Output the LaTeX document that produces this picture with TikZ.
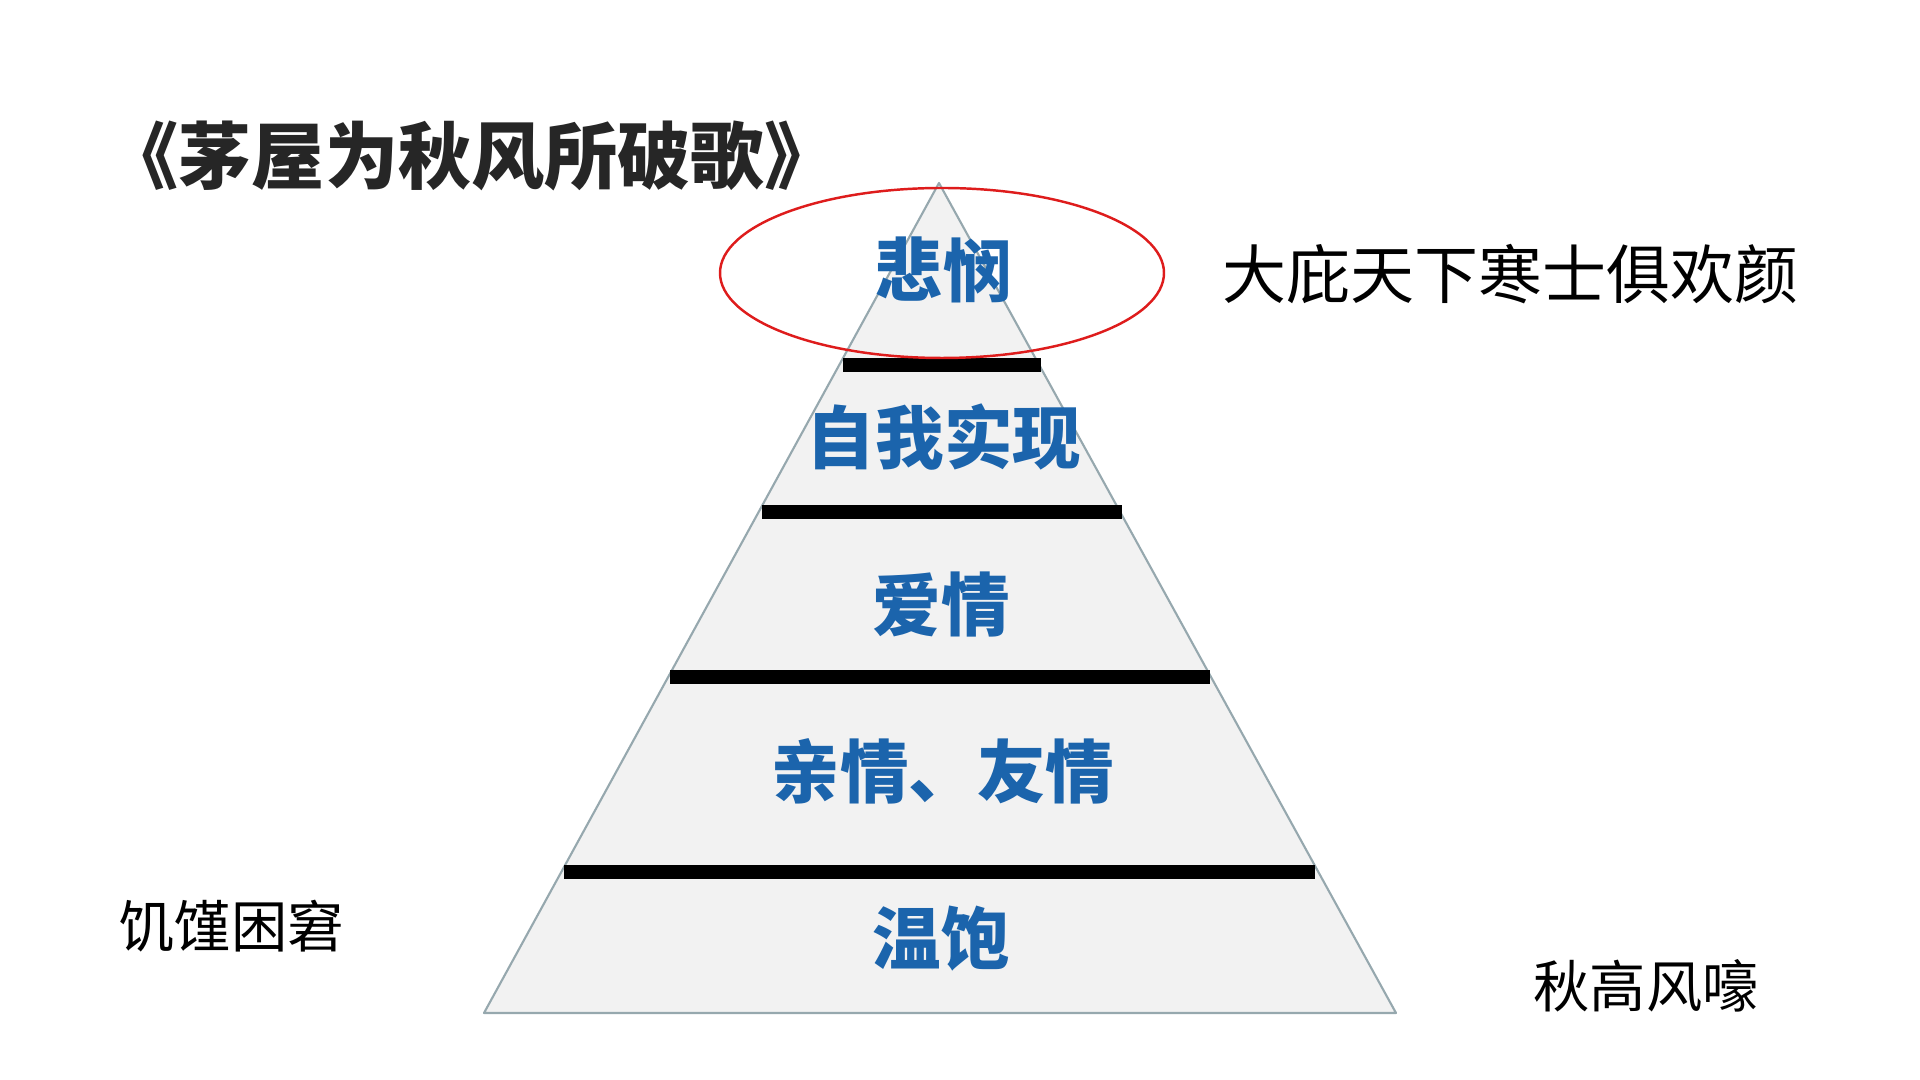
\documentclass[tikz,border=0pt]{standalone}
\usepackage{fontspec}
\newfontfamily\cjk{Noto Sans CJK SC}
\usepackage{xcolor}
\definecolor{levelblue}{RGB}{27,100,172}
\definecolor{pyredge}{RGB}{150,168,174}
\definecolor{pyrfill}{RGB}{242,242,242}
\definecolor{titlegray}{RGB}{38,38,38}
\definecolor{ringred}{RGB}{222,28,28}
\tikzset{
  every picture/.style={line join=round, line cap=butt},
  pyramid/.style={draw=pyredge, fill=pyrfill, line width=0.6pt},
  bar/.style={line width=4pt, draw=black},
  ring/.style={draw=ringred, line width=0.7pt},
  level/.style={inner sep=0pt, text=levelblue, font=\cjk\bfseries\fontsize{19.5}{20}\selectfont},
  verse/.style={inner sep=0pt, anchor=west, font=\cjk\fontsize{16}{18}\selectfont},
}

\begin{document}
\begin{tikzpicture}[x=0.01cm, y=-0.01cm]
\useasboundingbox (0,0) rectangle (1920,1080);
% pyramid
\coordinate (apex) at (939,183);
\coordinate (baseL) at (484,1013);
\coordinate (baseR) at (1396,1013);
\draw[pyramid] (apex) -- (baseL) -- (baseR) -- cycle;
% dividing bars
\coordinate (b1l) at (843,365);  \coordinate (b1r) at (1041,365);
\coordinate (b2l) at (762,512);  \coordinate (b2r) at (1122,512);
\coordinate (b3l) at (670,677);  \coordinate (b3r) at (1210,677);
\coordinate (b4l) at (564,872);  \coordinate (b4r) at (1315,872);
\draw[bar] (b1l) -- (b1r);
\draw[bar] (b2l) -- (b2r);
\draw[bar] (b3l) -- (b3r);
\draw[bar] (b4l) -- (b4r);
% levels
\node[level] (pity) at (943,270) {悲悯};
\node[level] (self) at (944,437) {自我实现};
\node[level] (love) at (941,605) {爱情};
\node[level] (kin) at (943,771) {亲情、友情};
\node[level] (fed) at (941,939) {温饱};
% red ring round the top
\draw[ring] (942,273) ellipse [x radius=222, y radius=85];
% title
\node[inner sep=0pt, anchor=west, text=titlegray,
      font=\cjk\bfseries\fontsize{20.8}{24}\selectfont] (title) at (105,156) {《茅屋为秋风所破歌》};
% verses
\node[verse, font=\cjk\fontsize{18.2}{20}\selectfont] (hope) at (1222,274) {大庇天下寒士俱欢颜};
\node[verse] (hunger) at (118,926) {饥馑困窘};
\node[verse] (wind) at (1533,986) {秋高风嚎};
\end{tikzpicture}
\end{document}
